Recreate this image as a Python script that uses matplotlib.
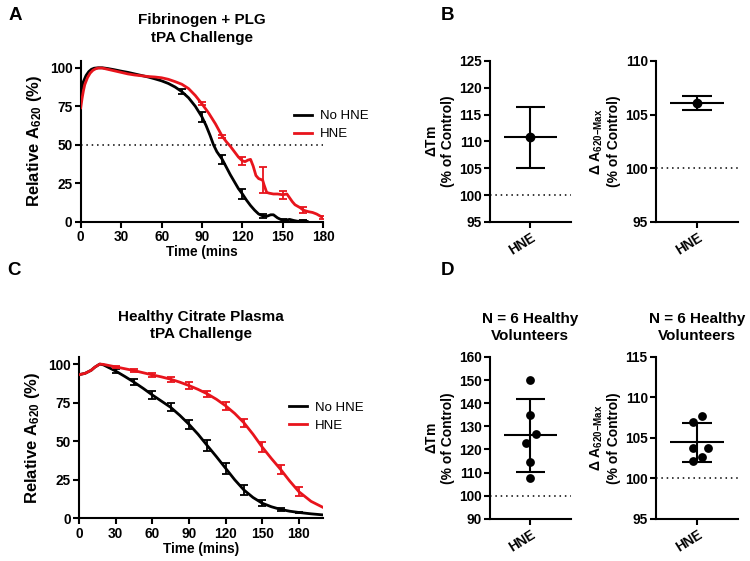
import numpy as np
import matplotlib
matplotlib.use("Agg")
import matplotlib.pyplot as plt

plt.rcParams['font.family'] = ['Liberation Sans', 'DejaVu Sans']
plt.rcParams['font.weight'] = 'bold'
plt.rcParams['mathtext.fontset'] = 'custom'
plt.rcParams['mathtext.bf'] = 'Liberation Sans:bold'
plt.rcParams['mathtext.rm'] = 'Liberation Sans'
plt.rcParams['mathtext.it'] = 'Liberation Sans:bold:italic'
plt.rcParams['mathtext.default'] = 'bf'

# ---------------- Panel A data (Fibrinogen + PLG) ----------------
a_black_t = [0, 2, 4, 6, 8, 10, 13, 16, 20, 25, 30, 35, 40, 45, 50, 55, 60, 65, 70, 75,
             80, 85, 90, 93, 96, 98.5, 101, 105, 108, 111, 114, 117, 120, 123, 126, 129,
             132, 135, 138, 141, 143, 146, 149, 150, 152, 155, 158, 161, 165, 168]
a_black_y = [84, 91, 95, 97.5, 99, 99.7, 100, 100, 99.5, 98.7, 97.8, 97, 96, 95, 94, 92.8,
             91.5, 89.8, 87.5, 84.5, 80.5, 75, 68, 62.5, 56, 50, 45.5, 40.5, 35.5, 30.5,
             26, 21.5, 18, 14, 10.5, 7.5, 5, 3.8, 3.5, 4.5, 4.5, 2.5, 1.2, 1, 1, 1.5, 0.8,
             0.3, 0.5, 0.2]
a_red_t = [0, 1, 2, 3, 5, 7, 9, 11, 13, 16, 20, 25, 30, 35, 40, 45, 50, 55, 60, 65, 70, 75,
           80, 85, 90, 95, 100, 105, 108, 111, 114, 117, 120, 122, 124, 126, 128, 130, 132,
           135, 136, 138, 140, 143, 146, 150, 153, 155, 157, 159, 161, 163, 165, 167, 169,
           172, 175, 177, 180]
a_red_y = [74, 80, 85, 89, 93.5, 96.5, 98.3, 99.3, 99.8, 99.8, 99, 98, 97, 96, 95.3, 94.8,
           94.3, 94, 93.5, 92.5, 91, 89.3, 86.5, 82, 76.5, 70.5, 63.5, 55.5, 52, 49, 45.5,
           42, 39.5, 39, 40, 40.5, 36, 30, 28, 27, 24, 19, 18.5, 18, 18, 17.5, 18, 15.5,
           13, 11, 10, 9, 7.6, 7, 6.5, 6, 5, 4, 2.5]
a_black_err_t = [75, 90, 105, 120, 135, 150, 165]
a_black_err = [1.5, 3, 3, 3, 1.5, 1, 0.5]
a_red_err_t = [90, 105, 120, 135, 150, 165, 180]
a_red_err = [1, 1, 2.5, 8.6, 2.5, 2, 1]

# ---------------- Panel C data (Healthy Citrate Plasma) ----------------
c_t = [0, 5, 10, 13, 17, 20, 25, 30, 37.5, 45, 52.5, 60, 67.5, 75, 82.5, 90, 97.5, 105,
       112.5, 120, 127.5, 135, 142.5, 150, 157.5, 165, 172.5, 180, 190, 200]
c_black_y = [93.1, 94, 96, 98, 100, 99.5, 97.5, 95.5, 92, 88.3, 84.3, 80, 76, 72, 66.8, 61,
             54.5, 47.2, 40, 32.5, 25, 18.4, 13.5, 9.8, 7.5, 5.8, 4.6, 3.8, 2.9, 2.2]
c_red_y = [93.1, 94, 96, 98, 100, 99.8, 99, 98.2, 97, 95.8, 94.4, 93, 91.7, 90.2, 88.3,
           86.1, 83.6, 80.7, 77.2, 73, 68, 62, 54.5, 46.2, 38.8, 31.8, 24.2, 17.3, 11, 7]
c_err_t = [30, 45, 60, 75, 90, 105, 120, 135, 150, 165, 180]
c_black_err = [1, 2, 2.5, 2.5, 3, 3.5, 3.5, 3, 2, 1, 0.5]
c_red_err = [0.5, 1, 1.2, 1.5, 2, 2, 2.5, 2.5, 3, 3, 3]

# ---------------- Panel B data ----------------
b_tm_mean, b_tm_lo, b_tm_hi = 110.8, 105.0, 116.5
b_a_mean, b_a_lo, b_a_hi = 106.05, 105.4, 106.75

# ---------------- Panel D data ----------------
d_tm_points = [149.8, 135.1, 126.8, 122.9, 114.7, 107.7]
d_tm_mean, d_tm_lo, d_tm_hi = 126.2, 110.4, 141.9
d_a_points = [107.0, 107.7, 103.7, 103.7, 102.2, 102.6]
d_a_mean, d_a_lo, d_a_hi = 104.5, 102.06, 106.9

category = ['HNE']
legend_labels = ['No HNE', 'HNE']

# style constants
RED = '#e8141c'
BLACK = '#000000'
JIT_TM = [0, 0, 0.13, -0.11, 0, 0]
JIT_A = [-0.11, 0.13, -0.11, 0.26, -0.11, 0.13]

fig = plt.figure(figsize=(7.5, 5.61), dpi=100)


def style_axes(ax):
    for s in ['top', 'right']:
        ax.spines[s].set_visible(False)
    for s in ['left', 'bottom']:
        ax.spines[s].set_linewidth(1.5)
    ax.tick_params(width=1.5, length=4, labelsize=9.8, pad=2)
    for lab in ax.get_xticklabels() + ax.get_yticklabels():
        lab.set_fontweight('bold')


def pick(ts, ys, sel):
    return [ys[ts.index(t)] for t in sel]


def curve_panel(ax, t1, y1, t2, y2, et1, e1, et2, e2, xlim, xlab, title, leg_anchor):
    ax.plot(t1, y1, color=BLACK, lw=2, label=legend_labels[0], zorder=3)
    ax.plot(t2, y2, color=RED, lw=2, label=legend_labels[1], zorder=4)
    ax.errorbar(et1, pick(t1, y1, et1), yerr=e1, fmt='none', ecolor=BLACK,
                elinewidth=1.3, capsize=3, capthick=1.3, zorder=3)
    ax.errorbar(et2, pick(t2, y2, et2), yerr=e2, fmt='none', ecolor=RED,
                elinewidth=1.3, capsize=3, capthick=1.3, zorder=4)
    ax.set_xlim(*xlim)
    ax.set_ylim(0, 104.4)
    ax.set_xticks([0, 30, 60, 90, 120, 150, 180])
    ax.set_yticks([0, 25, 50, 75, 100])
    ax.set_xlabel(xlab, fontsize=9.8, fontweight='bold', labelpad=1)
    ax.set_ylabel('Relative A$_{620}$ (%)', fontsize=12, fontweight='bold', labelpad=4)
    ax.set_title(title, fontsize=11, fontweight='bold', pad=14, linespacing=1.3)
    style_axes(ax)
    leg = ax.legend(loc='center left', bbox_to_anchor=leg_anchor, frameon=False,
                    handlelength=1.4, handletextpad=0.6, labelspacing=0.45,
                    prop={'size': 9.5, 'weight': 'normal'})
    for h in leg.get_lines():
        h.set_linewidth(2)


axA = fig.add_axes([0.1076, 0.6048, 0.3235, 0.2865])
curve_panel(axA, a_black_t, a_black_y, a_red_t, a_red_y, a_black_err_t, a_black_err,
            a_red_err_t, a_red_err, (0, 180), 'Time (mins',
            'Fibrinogen + PLG\ntPA Challenge', (0.83, 0.6))
axA.axhline(50, color=BLACK, lw=1.1, ls=(0, (1, 2.5)), zorder=1)

axC = fig.add_axes([0.1053, 0.0761, 0.3257, 0.287])
curve_panel(axC, c_t, c_black_y, c_t, c_red_y, c_err_t, c_black_err, c_err_t,
            c_red_err, (0, 200), 'Time (mins)',
            'Healthy Citrate Plasma\ntPA Challenge', (0.81, 0.63))


def mean_panel(ax, mean, lo, hi, ylim, yticks, ylabel, points=None, jit=None, title=None):
    ax.axhline(100, color=BLACK, lw=1.1, ls=(0, (1, 2.5)), zorder=1)
    if points is not None:
        ax.scatter(np.array(jit), points, s=40, color=BLACK, zorder=3, linewidths=0)
    else:
        ax.plot([0], [mean], 'o', color=BLACK, ms=6, zorder=4)
    ax.hlines(mean, -0.66, 0.66, color=BLACK, lw=1.5, zorder=3)
    ax.vlines(0, lo, hi, color=BLACK, lw=1.5, zorder=3)
    ax.hlines([lo, hi], -0.36, 0.36, color=BLACK, lw=1.5, zorder=3)
    ax.set_xlim(-1, 1)
    ax.set_ylim(*ylim)
    ax.set_yticks(yticks)
    ax.set_xticks([0])
    ax.set_xticklabels(category, rotation=32, ha='right', rotation_mode='anchor',
                       fontsize=9.8, fontweight='bold')
    ax.set_ylabel(ylabel, fontsize=10, fontweight='bold', labelpad=3, linespacing=1.2)
    if title:
        ax.set_title(title, fontsize=11, fontweight='bold', pad=12, linespacing=1.3)
    style_axes(ax)


lab_tm = '$\\mathrm{\\Delta Tm}$\n(% of Control)'
lab_a = '$\\mathrm{\\Delta}$ A$_{620{-}Max}$\n(% of Control)'

axB1 = fig.add_axes([0.6533, 0.6043, 0.108, 0.287])
mean_panel(axB1, b_tm_mean, b_tm_lo, b_tm_hi, (95, 125), [95, 100, 105, 110, 115, 120, 125], lab_tm)
axB2 = fig.add_axes([0.8747, 0.6043, 0.1093, 0.287])
mean_panel(axB2, b_a_mean, b_a_lo, b_a_hi, (95, 110), [95, 100, 105, 110], lab_a)

axD1 = fig.add_axes([0.6533, 0.0749, 0.1076, 0.289])
mean_panel(axD1, d_tm_mean, d_tm_lo, d_tm_hi, (90, 160), [90, 100, 110, 120, 130, 140, 150, 160],
           lab_tm, d_tm_points, JIT_TM, 'N = 6 Healthy\nVolunteers')
axD2 = fig.add_axes([0.8747, 0.0749, 0.1093, 0.289])
mean_panel(axD2, d_a_mean, d_a_lo, d_a_hi, (95, 115), [95, 100, 105, 110, 115],
           lab_a, d_a_points, JIT_A, 'N = 6 Healthy\nVolunteers')

for txt, x, y in [('A', 0.012, 0.972), ('B', 0.588, 0.972), ('C', 0.010, 0.517), ('D', 0.588, 0.517)]:
    fig.text(x, y, txt, fontsize=13.5, fontweight='bold', va='center', ha='left')

fig.savefig('out.png', dpi=100)
